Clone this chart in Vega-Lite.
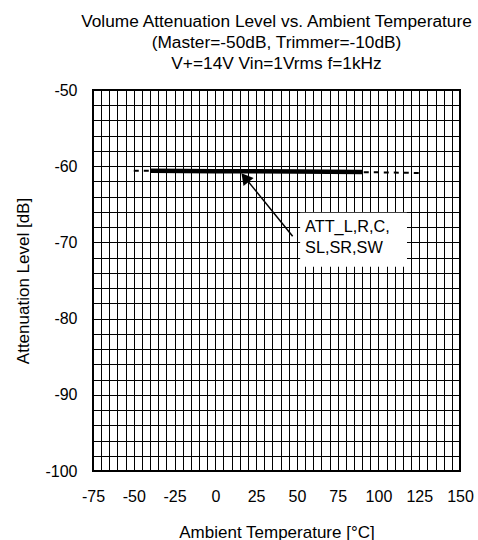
{
  "$schema": "https://vega.github.io/schema/vega-lite/v6.json",
  "width": 367,
  "height": 381,
  "autosize": {"type": "none"},
  "padding": {"left": 93, "top": 90, "right": 18, "bottom": 69},
  "background": "white",
  "title": {
    "text": ["Volume Attenuation Level vs. Ambient Temperature", "(Master=-50dB, Trimmer=-10dB)", "V+=14V Vin=1Vrms f=1kHz"],
    "font": "Liberation Sans",
    "fontSize": 17.3,
    "fontWeight": "normal",
    "color": "black",
    "anchor": "middle",
    "lineHeight": 21,
    "offset": 10
  },
  "config": {
    "view": {"stroke": "black", "strokeWidth": 2},
    "axis": {
      "labelFont": "Liberation Sans",
      "labelFontSize": 16,
      "labelColor": "black",
      "titleFont": "Liberation Sans",
      "titleFontSize": 17,
      "titleFontWeight": "normal",
      "titleColor": "black",
      "grid": true,
      "gridColor": "black",
      "gridOpacity": 1,
      "gridWidth": 1,
      "ticks": false,
      "domain": false,
      "labelOverlap": false,
      "labelFlush": false,
      "labelBound": false,
      "tickCount": 200
    }
  },
  "datasets": {
    "dashed": [
      {"temp": -50, "att": -60.6},
      {"temp": 0, "att": -60.65},
      {"temp": 50, "att": -60.7},
      {"temp": 100, "att": -60.8},
      {"temp": 125, "att": -60.9}
    ],
    "solid": [
      {"temp": -40, "att": -60.6},
      {"temp": 0, "att": -60.65},
      {"temp": 25, "att": -60.65},
      {"temp": 50, "att": -60.7},
      {"temp": 90, "att": -60.75}
    ],
    "box": [
      {"x1": 52, "x2": 117.5, "y1": -66.1, "y2": -73.2}
    ],
    "labels": [
      {"tx": 55, "ty": -68.0, "txt": "ATT_L,R,C,"},
      {"tx": 55, "ty": -70.75, "txt": "SL,SR,SW"}
    ],
    "arrow": [
      {"xa": 47.4, "ya": -69.2, "xb": 17.5, "yb": -61.3}
    ],
    "head": [
      {"hx": 18.2, "hy": -61.5}
    ]
  },
  "layer": [
    {
      "data": {"name": "dashed"},
      "mark": {"type": "line", "color": "black", "strokeWidth": 2, "strokeDash": [5, 5]},
      "encoding": {
        "x": {
          "field": "temp", "type": "quantitative",
          "scale": {"domain": [-75, 150], "nice": false, "zero": false},
          "axis": {
            "title": "Ambient Temperature [°C]",
            "values": [-75,-70,-65,-60,-55,-50,-45,-40,-35,-30,-25,-20,-15,-10,-5,0,5,10,15,20,25,30,35,40,45,50,55,60,65,70,75,80,85,90,95,100,105,110,115,120,125,130,135,140,145,150],
            "labelExpr": "datum.value % 25 == 0 ? '' + datum.value : ''",
            "labelPadding": 17,
            "titlePadding": 20
          }
        },
        "y": {
          "field": "att", "type": "quantitative",
          "scale": {"domain": [-100, -50], "nice": false, "zero": false},
          "axis": {
            "title": "Attenuation Level [dB]",
            "values": [-100,-98,-96,-94,-92,-90,-88,-86,-84,-82,-80,-78,-76,-74,-72,-70,-68,-66,-64,-62,-60,-58,-56,-54,-52,-50],
            "labelExpr": "datum.value % 10 == 0 ? '' + datum.value : ''",
            "labelPadding": 16,
            "titlePadding": 12
          }
        }
      }
    },
    {
      "data": {"name": "solid"},
      "mark": {"type": "line", "color": "black", "strokeWidth": 4.5},
      "encoding": {
        "x": {"field": "temp", "type": "quantitative"},
        "y": {"field": "att", "type": "quantitative"}
      }
    },
    {
      "data": {"name": "box"},
      "mark": {"type": "rect", "fill": "white"},
      "encoding": {
        "x": {"field": "x1", "type": "quantitative"},
        "x2": {"field": "x2"},
        "y": {"field": "y1", "type": "quantitative"},
        "y2": {"field": "y2"}
      }
    },
    {
      "data": {"name": "labels"},
      "mark": {"type": "text", "align": "left", "baseline": "middle", "font": "Liberation Sans", "fontSize": 16.3, "color": "black"},
      "encoding": {
        "x": {"field": "tx", "type": "quantitative"},
        "y": {"field": "ty", "type": "quantitative"},
        "text": {"field": "txt"}
      }
    },
    {
      "data": {"name": "arrow"},
      "mark": {"type": "rule", "color": "black", "strokeWidth": 1.5},
      "encoding": {
        "x": {"field": "xa", "type": "quantitative"},
        "y": {"field": "ya", "type": "quantitative"},
        "x2": {"field": "xb"},
        "y2": {"field": "yb"}
      }
    },
    {
      "data": {"name": "head"},
      "mark": {"type": "point", "shape": "triangle-up", "filled": true, "color": "black", "opacity": 1, "size": 170, "angle": 321},
      "encoding": {
        "x": {"field": "hx", "type": "quantitative"},
        "y": {"field": "hy", "type": "quantitative"}
      }
    }
  ]
}
